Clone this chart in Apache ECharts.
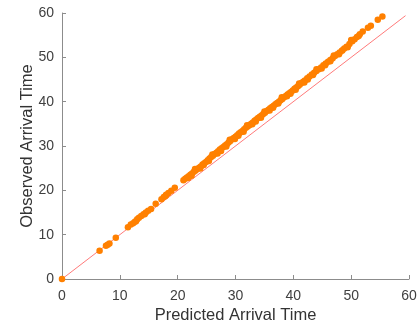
<!DOCTYPE html>
<html>
<head>
<meta charset="utf-8">
<script src="https://cdn.jsdelivr.net/npm/echarts@6/dist/echarts.min.js"></script>
<style>html,body{margin:0;padding:0;background:#fff}#c{width:417px;height:322px}</style>
</head>
<body>
<div id="c"></div>
<script>
var xTicks = [0, 10, 20, 30, 40, 50, 60];
var yTicks = [0, 10, 20, 30, 40, 50, 60];
var xName = 'Predicted Arrival Time';
var yName = 'Observed Arrival Time';
var refLine = [[0, 0], [59.4, 59.4]];
var points = [
[0,0],
[6.5,6.4],[7.6,7.5],[7.9,7.7],[8.2,8.0],[9.3,9.3],
[11.4,11.7],[11.9,12.3],[12.3,12.6],[12.6,12.9],[13.0,13.5],[13.3,13.8],[13.7,14.2],[14.1,14.6],[14.5,15.0],[14.9,15.4],[15.4,15.8],
[16.2,17.0],[17.2,18.0],[17.6,18.5],[18.0,19.0],[18.4,19.4],[18.9,19.9],[19.5,20.6],
[21.0,22.3],[21.3,22.6],[21.6,22.9],[21.9,23.2],[22.2,23.5],[22.5,23.8],[22.8,24.2],[23.1,24.5],[23.4,24.8],[23.7,25.1],[24.0,25.4],[24.3,25.8],[24.6,26.1],[24.9,26.4],[25.2,26.8],[25.5,27.2],[25.8,27.5],[26.1,27.8],[26.4,28.2],[26.7,28.5],[27.0,28.8],[27.3,29.2],[27.6,29.5],[27.9,29.8],[28.2,30.1],[28.5,30.4],[28.8,30.8],[29.1,31.1],[29.4,31.5],[29.7,31.8],[30.0,32.1],[30.3,32.4],[30.6,32.8],[30.9,33.1],[31.2,33.4],[31.5,33.8],[31.8,34.1],[32.1,34.4],[32.4,34.7],[32.7,35.0],[33.0,35.3],[33.3,35.7],[33.6,36.0],[33.9,36.3],[34.2,36.6],[34.5,36.9],[34.8,37.2],[35.1,37.5],[35.4,37.9],[35.7,38.2],[36.0,38.5],[36.3,38.8],[36.6,39.1],[36.9,39.4],[37.2,39.7],[37.5,40.0],[37.8,40.3],[38.1,40.6],[38.4,41.0],[38.7,41.3],[39.0,41.6],[39.3,41.9],[39.6,42.2],[39.9,42.5],[40.2,42.9],[40.5,43.2],[40.8,43.5],[41.1,43.8],[41.4,44.2],[41.7,44.5],[42.0,44.8],[42.4,45.3],[42.8,45.7],[43.2,46.1],[43.6,46.5],[44.0,46.9],[44.4,47.3],[44.8,47.7],[45.2,48.2],[45.6,48.6],[46.0,49.0],[46.4,49.4],[46.8,49.8],[47.2,50.3],[47.6,50.7],[48.0,51.1],[48.4,51.5],[48.8,52.0],[49.2,52.4],[49.7,53.0],[50.2,53.6],[50.6,54.1],[51.0,54.6],[51.5,55.2],[52.0,55.8],[52.9,56.7],[53.4,57.1],[54.6,58.5],[55.4,59.2],
[22.4,23.3],[23.9,24.9],[25.4,26.6],[26.9,28.3],[28.4,29.9],[29.9,31.6],[31.4,33.2],[32.9,34.9],[34.4,36.4],[35.9,38.0],[37.4,39.6],[38.9,41.2],[40.4,42.7],[41.9,44.3],[43.4,46.0],[44.9,47.5],[46.4,49.1],[47.9,50.7],[49.4,52.3],
[23.0,24.8],[26.0,28.1],[29.0,31.4],[32.0,34.7],[35.0,37.8],[38.0,41.0],[41.0,44.1],[44.0,47.3],[47.0,50.4],[50.0,53.9],
[12.8,13.0],[14.3,14.6],[17.9,18.7],[21.8,22.8],[24.5,25.7],[27.5,28.9],[30.5,32.3],[33.5,35.5],[36.5,38.6],[39.5,41.8],[42.5,45.0],[45.5,48.2],[48.5,51.6],[51.3,54.8]
];

var chart = echarts.init(document.getElementById('c'));
var axisCommon = {
  type: 'value', min: 0, max: 60, interval: 10,
  axisLine: { show: true, lineStyle: { color: '#8c8c8c', width: 1 } },
  axisTick: { show: true, inside: true, length: 4, lineStyle: { color: '#8c8c8c' } },
  splitLine: { show: false },
  nameLocation: 'middle',
  nameMoveOverlap: false,
  nameTextStyle: { fontFamily: 'Liberation Sans', fontSize: 16.5, color: '#333333' }
};
chart.setOption({
  animation: false,
  grid: { left: 62, right: 8, top: 13, bottom: 43, containLabel: false, outerBoundsMode: 'none' },
  xAxis: Object.assign({}, axisCommon, {
    name: xName, nameGap: 28,
    axisLabel: { fontFamily: 'Liberation Sans', fontSize: 14, color: '#404040', margin: 10,
      formatter: function (v) { return xTicks.indexOf(v) >= 0 ? String(v) : ''; } }
  }),
  yAxis: Object.assign({}, axisCommon, {
    name: yName, nameGap: 26,
    axisLabel: { fontFamily: 'Liberation Sans', fontSize: 14, color: '#404040', margin: 8,
      formatter: function (v) { return yTicks.indexOf(v) >= 0 ? String(v) : ''; } }
  }),
  series: [
    { type: 'line', data: refLine, symbol: 'none', lineStyle: { color: '#ff7a7a', width: 1 }, z: 1 },
    { type: 'scatter', data: points, symbolSize: 6.5, itemStyle: { color: '#ff8000', opacity: 1 }, z: 2 }
  ]
});
</script>
</body>
</html>
